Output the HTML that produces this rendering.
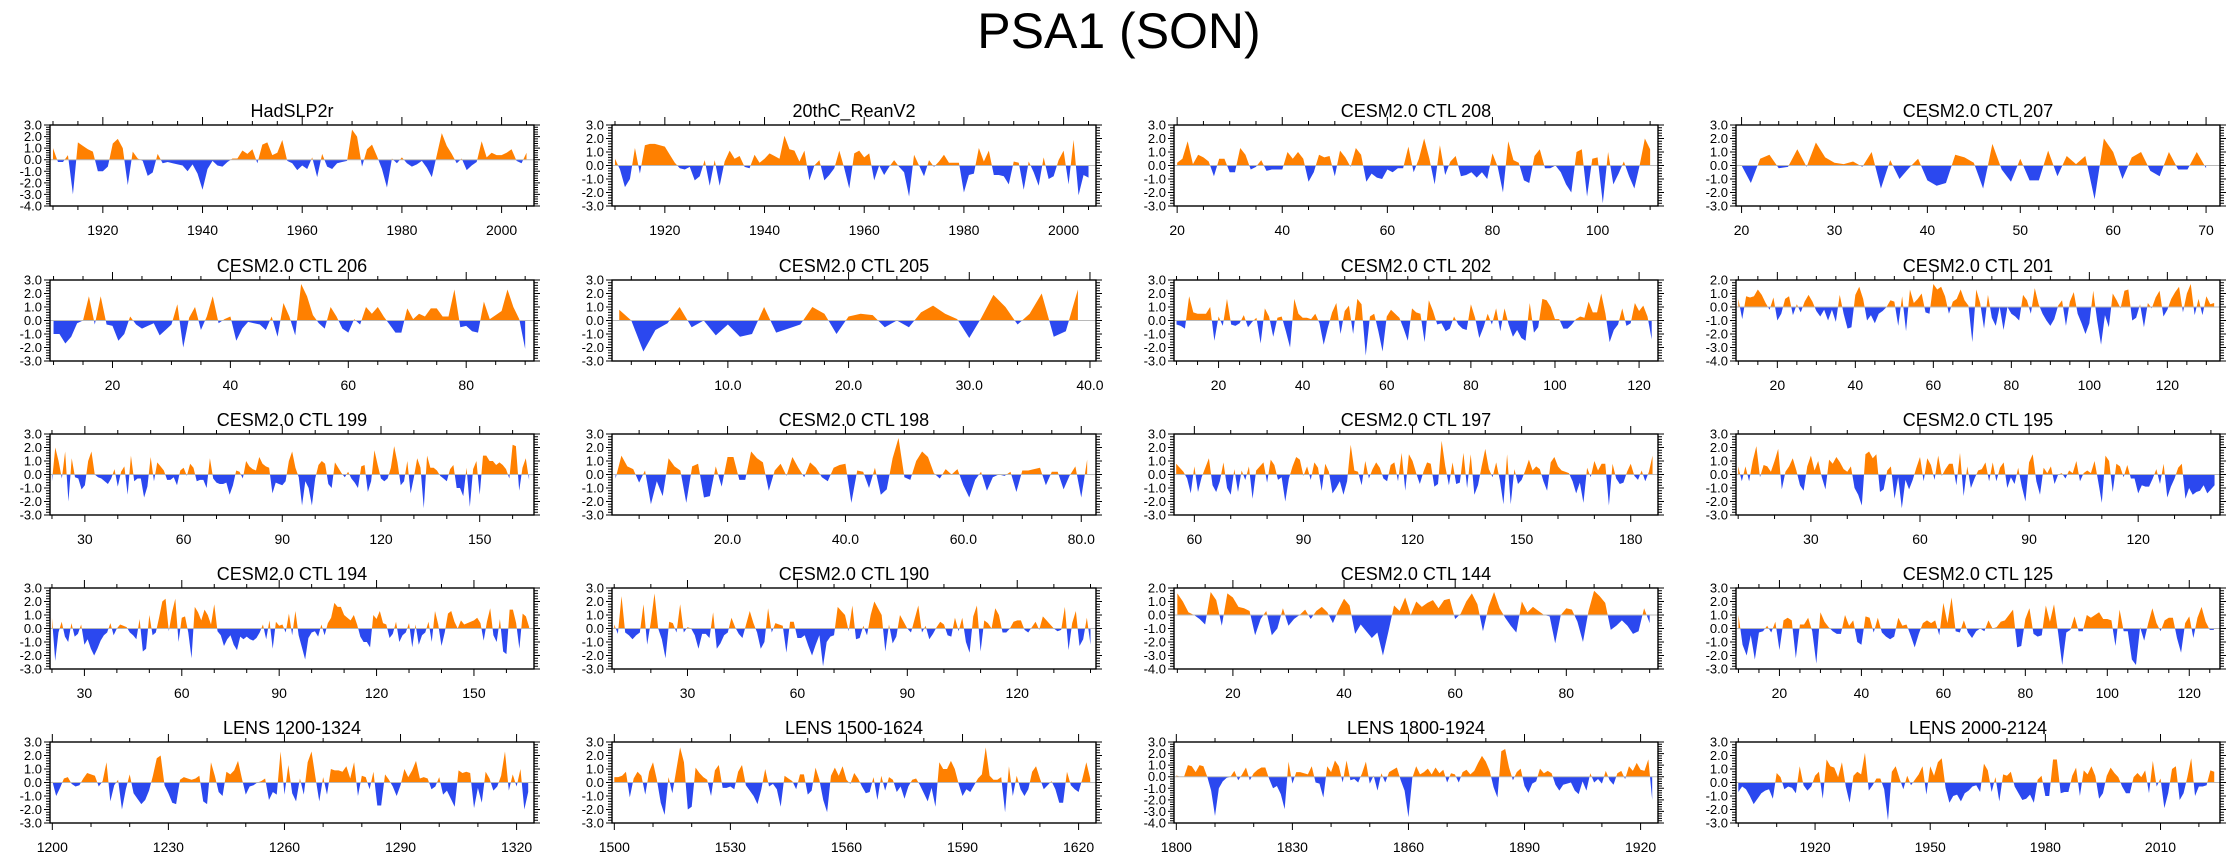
<!DOCTYPE html>
<html><head><meta charset="utf-8"><title>PSA1 (SON)</title>
<style>html,body{margin:0;padding:0;background:#fff}svg{display:block}text{font-family:"Liberation Sans",Arial,sans-serif}</style>
</head><body>
<svg id="fig" width="2238" height="856" viewBox="0 0 2238 856" xmlns="http://www.w3.org/2000/svg">
<text x="1119" y="48" font-size="50" text-anchor="middle">PSA1 (SON)</text>
</svg>
<script>
// ---- data (one value per year/model-year, starting at the given start) ----
const hadslp2rStart = 1910;
const hadslp2rVals = [1.0,-0.2,-0.2,0.4,-3.0,1.5,1.2,0.9,0.7,-1.0,-1.0,-0.6,1.4,1.8,1.0,-2.2,0.7,0.1,-0.1,-1.4,-1.1,0.5,-0.3,-0.2,-0.3,-0.4,-0.5,-1.0,-0.4,-1.2,-2.6,-0.8,-0.1,-0.5,-0.6,-0.2,0.1,0.1,0.8,0.5,0.9,-0.3,1.3,1.5,0.4,0.6,1.7,-0.1,-0.3,-0.9,-0.5,-0.8,0.2,-1.5,0.5,-0.6,-0.8,-0.3,-0.2,-0.1,2.6,2.0,-0.6,0.9,1.3,0.3,-0.8,-2.4,0.1,-0.3,0.2,-0.3,-0.6,-0.4,-0.1,-0.7,-1.5,0.4,2.3,1.2,0.5,-0.3,0.1,-0.9,-0.5,-0.2,1.6,0.2,0.6,0.4,0.4,0.6,0.9,-0.1,-0.3,0.6];
const reanStart = 1910;
const reanVals = [0.5,-0.3,-1.6,-1.0,1.3,-0.6,1.5,1.6,1.6,1.5,1.4,0.8,0.2,-0.2,-0.3,-0.1,-1.1,-0.8,0.4,-1.5,0.4,-1.5,0.3,1.1,0.5,0.7,-0.1,-0.2,0.8,0.2,0.5,0.9,0.7,0.5,2.2,1.2,1.1,0.3,1.1,-1.1,0.0,0.4,-1.1,-0.7,-0.2,1.1,-0.2,-1.7,0.9,1.1,0.6,0.9,-1.1,0.0,-0.7,-0.1,0.4,-0.1,-0.5,-2.3,0.8,0.0,-0.8,0.4,-0.1,0.3,0.8,0.2,0.2,0.2,-2.0,-0.7,-0.6,1.3,0.3,1.1,-0.7,-0.7,-0.8,-1.4,0.3,0.2,-1.8,0.3,-0.5,-1.5,0.6,-1.0,-0.8,0.4,1.1,-1.4,1.9,-2.2,-0.7,-0.9];
const ctl208Start = 20;
const ctl208Vals = [0.2,0.5,1.8,0.1,0.8,0.6,0.3,-0.8,0.5,0.5,-0.5,-0.5,1.3,0.8,-0.3,-0.1,0.4,-0.4,-0.3,-0.3,-0.3,1.0,0.5,1.0,0.5,-1.2,-0.5,0.8,0.6,0.7,-0.8,1.1,0.6,-0.1,1.3,0.8,-1.2,-0.6,-0.9,-1.0,-0.3,-0.5,-0.2,-0.2,1.4,-0.5,0.5,2.0,0.5,-1.4,1.5,-0.7,0.3,0.7,-0.8,-0.7,-0.5,-0.9,-0.5,-1.0,0.9,-0.1,-2.0,1.8,0.4,0.2,-1.1,-1.3,0.7,1.2,-0.2,-0.2,0.0,-0.5,-1.4,-2.0,1.0,1.2,-2.3,0.5,0.6,-2.8,1.0,-1.4,-0.6,0.3,-0.8,-1.7,0.0,2.0,1.2];
const ctl207Start = 20;
const ctl207Vals = [0.0,-1.3,0.5,0.8,-0.2,-0.1,1.2,-0.1,1.7,0.6,0.2,0.1,0.3,-0.1,1.0,-1.7,0.4,-1.0,-0.2,0.5,-1.1,-1.5,-1.3,0.8,0.6,0.2,-1.7,1.6,-0.3,-1.2,0.5,-1.1,-1.1,1.1,-0.8,0.7,0.1,0.7,-2.5,2.0,1.0,-1.0,0.6,1.0,-0.4,-0.8,1.0,-0.3,-0.3,1.0,-0.2];
const ctl206Start = 10;
const ctl206Vals = [-1.0,-1.0,-1.7,-1.2,-0.2,0.0,1.8,-0.3,1.8,-0.3,-0.4,-1.5,-1.0,0.3,-0.3,-0.6,-0.4,-0.2,-1.1,-0.7,-0.3,1.2,-2.0,0.2,1.0,-0.7,0.3,1.8,-0.2,0.1,0.3,-1.5,-0.6,-0.1,-0.2,-0.3,-0.7,0.3,-1.2,1.3,0.3,-1.1,2.7,1.8,0.4,-0.2,-0.6,1.0,0.3,-0.6,-0.9,0.1,-0.3,1.0,0.5,1.0,0.3,-0.3,-0.9,-0.9,0.9,0.1,0.5,0.3,0.9,0.9,0.3,0.3,2.3,-0.5,-0.4,-0.8,-0.9,1.4,0.1,0.4,0.7,2.3,1.0,0.1,-2.1];
const ctl205Start = 1;
const ctl205Vals = [0.8,0.0,-2.3,-0.7,-0.2,1.0,-0.5,0.0,-1.1,-0.3,-1.2,-1.0,1.0,-0.9,-0.6,-0.3,1.0,0.5,-1.0,0.3,0.5,0.4,-0.5,0.0,-0.5,0.6,1.1,0.5,0.1,-1.3,0.2,1.9,1.0,-0.3,0.5,2.0,-1.2,-0.8,2.3];
const ctl202Start = 10;
const ctl202Vals = [-0.3,-0.4,-0.6,1.8,0.6,0.5,0.5,0.5,1.0,-1.5,0.3,-0.4,1.6,-0.3,-0.4,-0.2,0.4,-0.5,-0.1,0.2,-1.7,0.9,0.3,-1.2,0.2,0.3,-0.8,-2.0,1.6,0.5,0.2,0.2,0.1,0.5,-0.2,-1.8,-0.5,0.6,1.3,-1.0,0.7,1.1,-1.0,1.6,1.2,-2.6,0.3,0.5,-0.8,-2.3,0.3,0.8,0.5,0.2,-0.6,-1.5,0.9,0.6,0.5,-1.6,1.5,0.7,-0.3,-0.2,-0.8,-0.6,0.3,-0.3,-0.6,-0.7,1.2,0.2,-1.3,-0.5,0.5,-0.3,0.9,-0.8,0.9,-0.3,-1.2,-0.7,-1.3,-1.5,1.3,-0.9,-0.5,1.6,1.5,1.0,0.1,0.1,-0.6,-0.6,-0.3,0.1,0.3,0.2,1.4,0.6,0.6,2.0,0.5,-1.6,-0.7,-0.3,0.9,-0.4,-0.2,1.3,0.7,1.1,0.3,-1.4];
const ctl201Start = 10;
const ctl201Vals = [0.6,-0.9,0.8,0.7,0.8,1.3,0.9,0.3,-0.2,0.7,-1.0,-0.5,0.6,0.8,-0.6,0.2,-0.4,0.4,0.9,0.4,-0.3,-0.7,-0.2,-1.0,-0.2,-1.1,0.9,-0.5,-1.6,-1.5,0.9,1.5,0.6,-1.0,-0.6,-1.2,-0.5,-0.3,0.0,0.5,0.4,-1.4,0.8,-1.8,1.3,0.3,0.6,1.0,-0.4,-0.5,1.7,1.3,1.5,0.8,-0.5,0.4,0.6,1.3,0.5,0.1,-2.6,1.3,0.3,-1.6,0.9,-0.8,-1.4,0.0,-1.7,0.0,-0.5,-0.7,-1.0,0.9,0.5,-0.5,1.4,0.2,-0.5,-1.0,-1.4,-0.9,0.1,0.5,-1.4,0.4,1.1,-0.5,-1.2,-2.0,-1.2,1.2,-1.0,-2.8,-0.6,-1.5,1.0,0.5,-0.1,1.2,1.3,-1.0,-0.8,0.2,-1.5,0.3,-0.1,0.7,1.2,-0.7,-0.2,0.6,1.1,1.5,-0.4,1.0,1.7,-0.6,0.6,-0.6,0.8,0.2,0.3];
const ctl199Start = 20;
const ctl199Vals = [-0.5,2.0,1.0,-0.3,1.7,-2.0,1.2,-0.2,-0.3,-1.1,-0.8,1.0,1.7,0.0,-0.2,-0.3,-0.5,-0.7,-0.3,0.4,-0.9,0.2,0.6,-1.5,1.4,-0.5,-0.3,-0.3,-1.7,-0.9,1.3,-0.5,0.9,0.6,0.3,-0.4,-0.4,-0.2,-0.8,0.3,0.5,-0.1,0.8,0.5,-0.5,-0.4,-0.4,-1.0,1.2,-0.3,-0.6,-0.7,-0.7,-0.6,-1.5,-0.8,0.3,0.2,-0.3,1.0,0.6,0.4,0.3,1.3,0.8,0.6,0.5,-1.4,-0.6,-0.7,-0.8,-0.5,1.0,1.7,0.5,-0.2,-2.3,-0.5,-1.0,-2.3,-0.3,0.7,1.0,0.8,-0.7,-1.0,0.9,0.5,0.1,-0.2,0.2,-0.3,-0.6,-1.0,0.6,0.7,-1.3,-0.5,1.8,0.7,-0.3,-0.5,-0.3,0.5,2.1,0.9,-0.8,-0.5,1.0,-1.4,-0.2,1.2,0.5,-2.5,1.4,0.5,0.5,0.3,-0.1,-0.3,-0.5,0.4,0.7,-1.0,-1.0,-1.6,0.5,-2.4,0.4,1.0,-1.5,1.4,1.4,1.0,1.0,0.7,0.9,0.7,0.4,-0.3,2.2,2.1,-1.2,0.5,1.2,-0.4];
const ctl198Start = 1;
const ctl198Vals = [-0.3,1.4,0.6,0.4,-0.6,0.3,-2.2,-0.5,-1.6,1.2,0.6,0.3,-2.1,0.6,0.8,-1.7,-1.6,0.6,-0.9,1.3,1.3,-0.4,-0.4,1.7,1.2,0.9,-1.2,0.3,0.8,-0.1,1.3,0.5,-0.2,0.9,0.5,-0.2,-0.5,0.5,0.7,0.8,-2.1,0.3,0.2,-1.0,0.5,-1.5,-1.1,1.2,2.7,-0.2,-0.4,1.0,1.7,1.3,0.1,-0.3,0.4,0.0,0.4,-0.8,-1.7,-0.4,0.2,-1.2,-0.2,0.0,-0.1,0.2,-1.3,0.3,0.3,0.4,0.5,-0.8,0.2,0.2,-1.1,-0.1,0.6,-1.7,1.1];
const ctl197Start = 55;
const ctl197Vals = [0.8,0.5,0.2,-0.3,-1.4,0.6,-1.3,-0.2,0.5,1.2,-0.8,-1.3,-0.5,0.9,-1.0,-1.5,0.4,-1.3,0.3,-0.4,0.6,-1.8,0.3,0.6,0.9,-0.6,1.1,0.7,-0.4,-0.2,-2.0,-0.3,0.6,1.3,1.1,-0.1,0.6,-0.4,0.9,0.5,-1.2,0.8,0.2,-1.4,-1.0,-0.5,-1.5,-0.5,2.2,0.3,0.2,-0.8,1.0,-0.3,0.4,0.9,0.5,-0.3,-0.5,0.7,0.9,-0.5,1.6,-1.2,1.5,1.0,0.1,-0.7,0.2,0.9,0.8,-0.9,-0.7,2.5,0.6,-0.8,0.9,-0.7,-0.6,1.6,-1.0,1.5,-1.5,-0.8,0.6,1.9,0.4,-0.2,0.9,-0.4,-2.2,1.5,-2.2,0.4,-0.7,-0.4,0.3,1.1,0.3,0.6,0.4,-0.5,-1.2,0.9,1.3,0.6,0.3,0.2,0.1,-0.5,-1.4,-0.6,-2.1,0.5,-0.2,1.0,0.3,0.8,0.8,-2.3,0.8,-0.3,-0.7,-0.6,0.2,0.8,-0.1,-0.4,0.3,-0.5,0.2,1.4];
const ctl195Start = 10;
const ctl195Vals = [0.6,-0.5,0.6,-0.5,1.0,2.1,-0.2,0.7,0.6,0.2,1.0,1.9,-1.1,0.2,0.6,1.2,0.3,-0.8,-1.2,0.6,1.4,0.3,1.0,-0.2,-1.1,1.1,0.8,1.3,0.9,0.4,0.2,0.6,-1.0,-1.5,-2.3,1.5,1.7,1.2,1.5,-1.3,-1.1,0.3,0.6,-1.8,-0.2,-2.5,-0.4,-1.1,-0.4,0.5,1.3,-0.5,1.2,0.7,-0.4,1.4,-0.1,0.4,0.8,0.8,-0.8,1.6,-1.6,0.6,-1.0,-0.3,0.3,0.4,0.9,-0.5,0.9,-0.5,0.5,0.9,-1.0,-0.2,-0.7,0.5,-0.9,-2.0,0.9,1.5,-0.5,-1.5,0.5,0.1,0.6,-0.7,0.0,0.1,-0.3,0.3,0.1,1.0,-0.5,0.1,0.3,0.1,1.0,-0.5,-2.1,1.4,1.0,-1.3,0.8,0.6,-0.2,0.7,-0.3,-0.3,-1.4,-0.8,-0.9,-0.9,-0.3,0.4,-0.7,0.8,-1.7,-0.9,-0.3,0.5,0.8,-1.8,-1.0,-1.5,-1.3,-1.2,-0.8,-1.4,-1.1,-0.8];
const ctl194Start = 20;
const ctl194Vals = [0.8,-2.4,-0.3,0.5,-0.6,-1.0,0.4,-0.6,-0.4,0.3,-1.2,-0.8,-1.5,-2.0,-1.5,-0.9,-0.5,-0.3,0.4,-0.5,0.0,0.3,0.2,0.1,-0.3,-0.5,-0.8,0.7,-1.7,-1.5,1.0,-0.5,-0.3,0.8,2.0,2.2,-0.2,1.2,2.2,-1.0,0.8,0.9,-0.3,-2.2,1.6,1.2,0.6,1.4,1.0,0.3,1.8,-0.2,-0.5,-1.3,-0.8,-0.5,-1.2,-1.6,-0.6,-0.8,-0.6,-0.8,-0.9,-0.7,-0.3,0.3,-0.8,0.6,-1.5,0.5,0.2,0.3,-0.3,1.1,-0.5,1.3,-0.5,-1.4,-2.3,-0.7,-0.3,-0.2,-0.6,0.3,-0.5,0.4,0.8,1.9,1.6,1.6,1.0,0.8,0.6,1.0,0.3,-0.6,-1.0,-1.0,-1.4,1.0,0.7,1.3,0.4,0.3,-0.7,-0.4,0.5,-1.0,-0.5,-0.3,0.4,-1.4,0.3,-1.2,-0.5,-0.3,0.5,-1.0,1.3,0.3,-1.3,-0.3,1.1,1.3,0.5,0.0,0.6,0.3,0.4,0.5,0.6,0.8,0.4,-0.9,0.5,1.5,-0.5,-1.0,0.7,-1.7,-1.9,1.4,1.4,0.4,-1.5,1.1,0.9,0.1];
const ctl190Start = 10;
const ctl190Vals = [0.3,-0.4,2.4,-0.3,-0.5,-0.8,-0.5,-0.3,1.8,-1.2,0.5,2.6,0.0,-0.8,-2.2,0.5,0.4,-0.3,1.8,-0.3,0.1,0.0,-0.5,-1.5,-0.4,-0.4,-0.7,1.2,-1.5,-1.1,-0.5,-0.3,0.8,0.1,-0.4,-0.7,0.3,1.3,0.4,-0.3,-1.5,-1.0,1.5,-0.3,0.4,0.3,0.2,-1.8,0.5,0.5,-0.7,-0.7,-0.5,-1.3,-2.0,-1.2,-0.5,-2.8,-1.0,-0.6,-0.5,1.6,1.3,1.0,-0.2,1.7,-0.8,-0.7,0.2,-0.5,1.0,2.0,1.5,1.0,-1.7,0.3,-1.1,-0.6,1.0,0.5,0.0,-0.3,0.7,1.7,-0.3,0.2,-0.8,-0.4,0.1,0.5,0.3,-0.5,-0.6,0.8,-0.2,0.8,-1.0,-1.8,0.9,1.7,-1.7,0.6,0.4,0.0,1.5,1.0,-0.3,-0.3,0.0,0.5,0.6,0.6,-0.1,-0.3,0.1,0.5,-0.1,0.9,0.6,0.3,0.0,-0.2,-0.1,1.6,-1.6,0.4,1.3,-1.3,-0.8,0.8,-1.2];
const ctl144Start = 10;
const ctl144Vals = [1.6,1.0,0.2,0.0,-0.3,-0.7,1.7,1.1,-0.8,1.6,1.3,0.6,0.5,0.3,-1.5,-0.3,0.3,-1.5,-1.0,0.5,-0.8,-0.3,0.0,0.4,-0.3,0.3,0.6,0.2,-0.6,0.4,1.2,0.7,-1.4,-0.7,-1.2,-1.7,-1.3,-3.0,-1.2,0.7,0.3,1.3,0.0,1.0,0.6,0.9,1.1,0.5,1.1,1.2,-0.3,0.1,1.0,1.6,0.8,-1.2,0.6,1.7,0.5,-0.2,-0.8,-1.3,1.0,0.2,0.6,0.3,0.0,-0.1,-2.1,0.0,0.5,0.4,-0.5,-2.0,0.3,1.8,1.4,0.9,-1.1,-0.8,-0.4,-0.8,-1.4,-1.2,0.5,-0.6];
const ctl125Start = 10;
const ctl125Vals = [1.0,-1.2,-2.0,-0.5,-2.3,-0.3,-0.2,0.2,-0.3,0.5,-1.6,0.6,0.8,0.6,-2.2,0.3,0.3,0.8,-0.2,-2.6,1.2,0.5,0.1,-0.2,-0.4,-0.4,1.0,0.2,0.6,-1.0,-1.2,0.9,0.8,-0.3,0.8,-0.3,-0.6,-0.8,-0.6,0.8,0.2,0.3,-0.5,-1.4,-0.4,0.4,0.6,0.4,0.6,-0.5,1.9,0.4,2.3,-0.2,-0.3,0.6,-0.3,-0.7,-0.2,0.0,-0.2,0.6,0.0,0.1,0.5,0.6,1.0,1.4,-1.4,-1.3,0.7,1.5,-0.4,-0.6,-0.5,1.7,0.5,1.8,-0.3,-2.7,-0.3,-0.1,0.9,-0.2,-0.2,1.0,0.8,1.0,1.2,0.7,0.7,0.6,-1.3,1.4,-0.2,-0.2,-2.3,-2.7,0.1,-0.9,0.4,1.5,0.4,-0.2,0.6,0.8,0.8,-0.7,-1.8,0.4,0.9,-0.7,0.8,1.6,0.5,-0.1,-0.1];
const lens1200Start = 1200;
const lens1200Vals = [0.1,-1.0,-0.4,0.3,0.4,-0.1,-0.3,-0.2,0.3,0.7,0.6,0.5,-0.3,0.1,1.5,-1.4,-0.2,0.2,-2.0,-0.5,0.6,-0.8,-1.2,-1.6,-1.3,-0.6,0.5,1.8,2.0,-0.2,-0.8,-1.5,-1.6,0.2,0.4,0.3,0.2,0.3,0.5,-1.4,-1.6,1.5,0.5,-0.7,-1.0,0.8,0.6,0.9,1.6,0.3,-0.9,-0.3,-0.2,0.0,0.1,0.3,-1.3,-0.7,-0.9,2.3,-0.9,1.3,-0.8,-1.4,0.3,-0.9,1.5,2.3,0.4,-1.4,0.4,-0.9,1.0,0.9,0.9,0.8,1.2,0.3,1.5,-1.0,0.5,0.4,-0.5,0.8,-1.7,-1.7,0.6,0.2,-0.3,-1.0,-0.2,1.0,0.4,0.9,1.6,0.3,0.4,0.3,-0.5,-0.3,0.4,-0.9,-0.6,-1.2,-1.8,0.9,0.7,0.8,0.7,-1.9,-0.4,-1.5,0.8,0.3,-0.6,-0.3,0.5,2.3,-0.6,0.6,-0.3,1.0,-2.0,-0.7];
const lens1500Start = 1500;
const lens1500Vals = [0.4,0.4,0.5,0.8,-1.1,0.3,0.8,0.5,-0.9,0.8,1.5,0.2,-1.5,-2.4,0.4,-0.8,0.9,2.6,1.5,-2.0,-1.8,1.1,0.7,0.4,0.2,-1.0,0.9,1.3,-0.4,-0.4,-0.3,-0.5,0.8,1.3,-0.2,-0.6,-1.0,-1.6,-0.5,1.0,-0.3,-0.1,-0.5,-1.8,0.5,0.3,0.1,-0.5,0.6,0.6,-0.9,-0.6,1.1,0.2,-1.3,-2.2,0.5,1.1,0.5,1.2,0.2,-0.1,0.7,0.3,-0.3,-0.8,-0.7,0.4,-1.3,0.5,-0.6,0.4,0.2,-0.7,-0.3,-1.2,-0.3,0.2,0.3,-0.2,-0.8,-1.4,-0.4,-1.8,1.5,1.0,1.0,1.6,1.0,-0.1,-1.0,-0.5,-0.7,-0.2,0.3,0.6,2.6,0.5,0.2,0.2,0.4,-2.2,1.2,-1.0,0.5,-0.5,-1.0,-0.5,0.8,1.2,0.3,-0.5,-0.2,0.1,-0.5,-1.5,-1.5,0.8,-0.2,-0.5,-0.7,0.3,1.5,0.3];
const lens1800Start = 1800;
const lens1800Vals = [0.1,0.0,0.0,1.0,0.9,0.4,1.0,0.9,0.0,-1.2,-3.4,-1.0,-0.4,-0.1,0.0,0.5,-0.3,0.2,0.8,-0.3,0.3,0.6,0.8,0.8,-0.2,-1.0,-0.8,-1.5,-2.8,1.3,-0.6,0.4,0.4,0.3,0.2,0.9,-0.5,-0.6,-1.8,0.9,0.4,1.4,0.9,-0.5,1.4,-0.3,-0.2,-0.5,0.3,1.3,-0.6,0.1,-1.2,0.3,-0.5,0.4,0.6,0.8,-0.3,-1.2,-3.5,-0.1,0.9,0.2,0.4,0.7,0.2,0.8,0.3,0.6,-0.5,0.3,0.2,-0.5,0.4,0.6,0.2,0.5,1.2,1.8,1.3,0.5,-0.9,-1.8,2.2,2.4,0.8,-0.3,0.4,0.7,-0.8,-1.4,-0.6,-0.4,0.7,0.3,0.5,0.3,-0.7,-1.2,-0.7,-0.6,-0.5,-1.2,-1.5,-0.4,-1.2,0.3,-0.5,-0.2,-0.6,0.5,-0.3,-0.7,0.3,0.5,-0.2,0.9,0.5,1.2,0.6,0.5,1.5,-2.0];
const lens2000Start = 1900;
const lens2000Vals = [-0.7,-0.3,-0.5,-1.0,-1.6,-1.2,-0.8,-0.6,-0.5,-1.2,0.7,0.4,-0.5,-0.3,-0.4,-0.8,1.2,-0.2,-0.6,-0.3,0.5,0.8,-1.2,1.7,1.2,1.1,0.4,1.5,-0.3,-1.5,0.5,0.8,0.6,2.2,-0.6,-0.2,0.3,0.3,-0.5,-2.8,0.8,1.2,0.3,-0.5,0.5,-0.2,0.2,0.6,1.2,-0.9,1.2,0.5,1.5,1.8,-0.4,-1.5,-1.0,-0.9,-1.4,-0.8,-0.6,-0.3,-0.2,-0.7,1.4,0.9,-0.7,0.4,-1.4,0.6,0.5,0.8,-0.3,-0.8,-1.3,-1.2,-0.9,-1.5,0.2,0.5,-1.0,-1.0,1.7,1.7,-0.8,-0.7,-0.7,0.5,1.1,-1.0,0.9,0.6,1.2,0.5,-1.2,-0.8,0.5,1.1,0.7,0.4,-0.3,-0.8,-0.8,0.4,0.7,0.4,0.9,-0.8,1.6,-0.3,0.3,-1.9,-0.8,1.0,1.2,-1.3,-0.8,0.4,1.8,-1.0,-0.3,-0.3,-0.2,0.9,0.8];

// ---- layout ----
const colLeft = [50, 612, 1174, 1736];
const rowTop = [125, 280, 434, 588, 742];
const boxW = 484, boxH = 81;
const panels = [
 {name:'HadSLP2r', key:'hadslp2r', start:hadslp2rStart, vals:hadslp2rVals, ymin:-4, ymax:3, major:20, minor:5, dec:0, col:0, row:0},
 {name:'20thC_ReanV2', key:'20thc-reanv2', start:reanStart, vals:reanVals, ymin:-3, ymax:3, major:20, minor:5, dec:0, col:1, row:0},
 {name:'CESM2.0 CTL 208', key:'ctl-208', start:ctl208Start, vals:ctl208Vals, ymin:-3, ymax:3, major:20, minor:5, dec:0, col:2, row:0},
 {name:'CESM2.0 CTL 207', key:'ctl-207', start:ctl207Start, vals:ctl207Vals, ymin:-3, ymax:3, major:10, minor:2, dec:0, col:3, row:0},
 {name:'CESM2.0 CTL 206', key:'ctl-206', start:ctl206Start, vals:ctl206Vals, ymin:-3, ymax:3, major:20, minor:5, dec:0, col:0, row:1},
 {name:'CESM2.0 CTL 205', key:'ctl-205', start:ctl205Start, vals:ctl205Vals, ymin:-3, ymax:3, major:10, minor:2, dec:1, col:1, row:1},
 {name:'CESM2.0 CTL 202', key:'ctl-202', start:ctl202Start, vals:ctl202Vals, ymin:-3, ymax:3, major:20, minor:5, dec:0, col:2, row:1},
 {name:'CESM2.0 CTL 201', key:'ctl-201', start:ctl201Start, vals:ctl201Vals, ymin:-4, ymax:2, major:20, minor:5, dec:0, col:3, row:1},
 {name:'CESM2.0 CTL 199', key:'ctl-199', start:ctl199Start, vals:ctl199Vals, ymin:-3, ymax:3, major:30, minor:10, dec:0, col:0, row:2},
 {name:'CESM2.0 CTL 198', key:'ctl-198', start:ctl198Start, vals:ctl198Vals, ymin:-3, ymax:3, major:20, minor:5, dec:1, col:1, row:2},
 {name:'CESM2.0 CTL 197', key:'ctl-197', start:ctl197Start, vals:ctl197Vals, ymin:-3, ymax:3, major:30, minor:10, dec:0, col:2, row:2},
 {name:'CESM2.0 CTL 195', key:'ctl-195', start:ctl195Start, vals:ctl195Vals, ymin:-3, ymax:3, major:30, minor:10, dec:0, col:3, row:2},
 {name:'CESM2.0 CTL 194', key:'ctl-194', start:ctl194Start, vals:ctl194Vals, ymin:-3, ymax:3, major:30, minor:10, dec:0, col:0, row:3},
 {name:'CESM2.0 CTL 190', key:'ctl-190', start:ctl190Start, vals:ctl190Vals, ymin:-3, ymax:3, major:30, minor:10, dec:0, col:1, row:3},
 {name:'CESM2.0 CTL 144', key:'ctl-144', start:ctl144Start, vals:ctl144Vals, ymin:-4, ymax:2, major:20, minor:5, dec:0, col:2, row:3},
 {name:'CESM2.0 CTL 125', key:'ctl-125', start:ctl125Start, vals:ctl125Vals, ymin:-3, ymax:3, major:20, minor:5, dec:0, col:3, row:3},
 {name:'LENS 1200-1324', key:'lens-1200', start:lens1200Start, vals:lens1200Vals, ymin:-3, ymax:3, major:30, minor:10, dec:0, col:0, row:4},
 {name:'LENS 1500-1624', key:'lens-1500', start:lens1500Start, vals:lens1500Vals, ymin:-3, ymax:3, major:30, minor:10, dec:0, col:1, row:4},
 {name:'LENS 1800-1924', key:'lens-1800', start:lens1800Start, vals:lens1800Vals, ymin:-4, ymax:3, major:30, minor:10, dec:0, col:2, row:4},
 {name:'LENS 2000-2124', key:'lens-2000', start:lens2000Start, vals:lens2000Vals, ymin:-3, ymax:3, major:30, minor:10, dec:0, col:3, row:4}
];

const NS = 'http://www.w3.org/2000/svg';
const svg = document.getElementById('fig');
function mk(tag, attrs, parent){ const e=document.createElementNS(NS,tag); for(const k in attrs) e.setAttribute(k,attrs[k]); (parent||svg).appendChild(e); return e; }

panels.forEach(p => {
  const L = colLeft[p.col], T = rowTop[p.row], R = L+boxW, B = T+boxH;
  const n = p.vals.length, x0 = p.start - 0.6, x1 = p.start + n - 1 + 1.5;
  const xs = v => L + (v - x0) / (x1 - x0) * boxW;
  const ys = v => B - (v - p.ymin) / (p.ymax - p.ymin) * boxH;
  const g = mk('g', {});
  
  

  const title = mk('text', {x:(L+R)/2, y:T-8, 'font-size':18, 'text-anchor':'middle'}, g);
  title.textContent = p.name;
  
  

  const pts = [];
  for (let i=0;i<n;i++){
    const xv = p.start+i, yv = p.vals[i];
    if (i>0){ const py=p.vals[i-1]; if ((py>0&&yv<0)||(py<0&&yv>0)){ const t=py/(py-yv); pts.push([xv-1+t,0]); } }
    pts.push([xv,yv]);
  }
  const y0 = ys(0);
  function area(sign){
    let d = 'M'+xs(pts[0][0]).toFixed(2)+','+y0.toFixed(2);
    pts.forEach(q => { const v = sign>0?Math.max(q[1],0):Math.min(q[1],0); d += 'L'+xs(q[0]).toFixed(2)+','+ys(v).toFixed(2); });
    d += 'L'+xs(pts[pts.length-1][0]).toFixed(2)+','+y0.toFixed(2)+'Z';
    return d;
  }
  const pos = mk('path', {d:area(1), fill:'#ff8000', stroke:'none'}, g);
  
  
  const neg = mk('path', {d:area(-1), fill:'#2b48ef', stroke:'none'}, g);
  
  
  const zl = mk('line', {x1:L, x2:R, y1:y0, y2:y0, stroke:'#b8b8b8', 'stroke-width':1}, g);
  
  

  const box = mk('rect', {x:L, y:T, width:boxW, height:boxH, fill:'none', stroke:'#000', 'stroke-width':1.4}, g);
  
  

  let td = '';
  for (let k=Math.round(p.ymin*5); k<=Math.round(p.ymax*5); k++){
    const v = k/5, yy = ys(v).toFixed(2), len = (k%5===0)?6:4;
    td += 'M'+L+','+yy+'h-'+len+'M'+R+','+yy+'h'+len;
    if (k%5===0){
      const lab = mk('text', {x:L-8, y:(+yy+4.5), 'font-size':13, 'text-anchor':'end'}, g);
      lab.textContent = v.toFixed(1);
      
      
    }
  }
  const first = Math.ceil(x0/p.minor)*p.minor;
  for (let v=first; v<=x1; v+=p.minor){
    const xx = xs(v).toFixed(2), isMaj = (v % p.major === 0);
    td += 'M'+xx+','+B+'v'+(isMaj?7:4)+'M'+xx+','+T+'v-'+(isMaj?8:4);
    if (isMaj){
      const lab = mk('text', {x:xx, y:B+29, 'font-size':14, 'text-anchor':'middle'}, g);
      lab.textContent = p.dec ? v.toFixed(p.dec) : String(v);
      
      
    }
  }
  const ticks = mk('path', {d:td, stroke:'#000', 'stroke-width':1, fill:'none'}, g);
  
  
});
</script>
</body></html>
